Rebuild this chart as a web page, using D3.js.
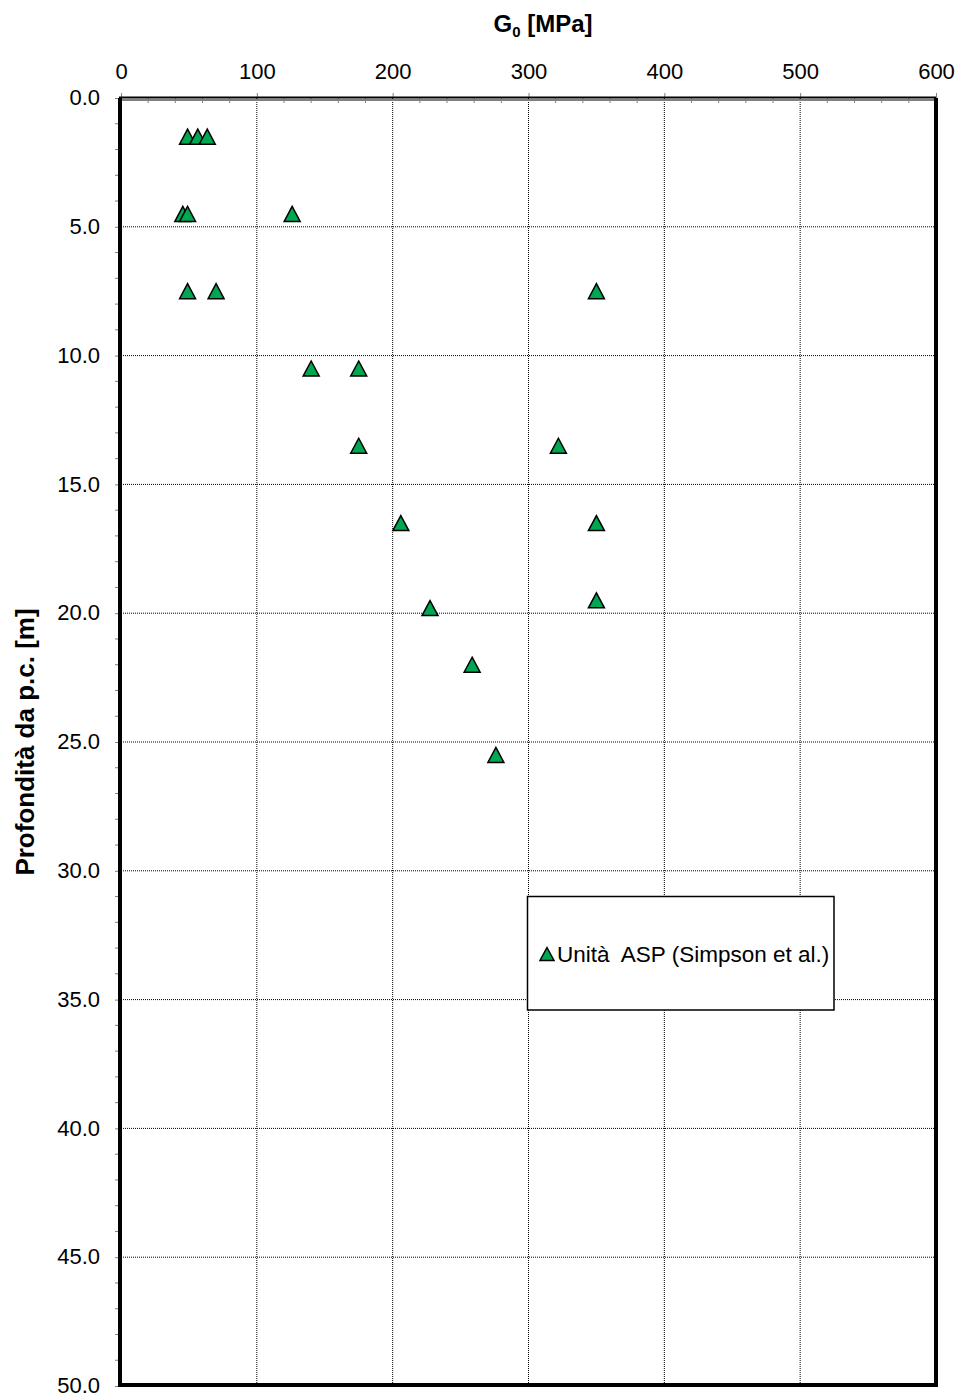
<!DOCTYPE html>
<html>
<head>
<meta charset="utf-8">
<script src="https://cdn.jsdelivr.net/npm/d3@7"></script>
<style>
  body { margin: 0; background: #fff; }
  svg { display: block; font-family: "Liberation Sans", Arial, sans-serif; }
</style>
</head>
<body>
<svg id="chart" width="958" height="1396"></svg>
<script>
// G0 values [MPa] and depths [m]
var g0 =    [49, 56.5, 63.5, 45.5, 49, 126, 49, 70, 350, 140, 175, 175, 322, 206, 350, 227.5, 350, 258.5, 276];
var depth = [1.5, 1.5, 1.5, 4.5, 4.5, 4.5, 7.5, 7.5, 7.5, 10.5, 10.5, 13.5, 13.5, 16.5, 16.5, 19.8, 19.5, 22.0, 25.5];
var xTicks = [0, 100, 200, 300, 400, 500, 600];
var yTicks = [0, 5, 10, 15, 20, 25, 30, 35, 40, 45, 50];
var seriesName = "Unità  ASP (Simpson et al.)";

var svg = d3.select("#chart");

// plot area (window.top is read-only, so no plain "top")
var pL = 121, pR = 936, pT = 98, pB = 1386;

var x = d3.scaleLinear().domain([0, 600]).range([pL, pR]);
var y = d3.scaleLinear().domain([0, 50]).range([pT, pB]);

// triangle centred on its bounding box, like the spreadsheet marker
function triType(w, h) {
  return {
    draw: function(ctx) {
      ctx.moveTo(0, -h / 2);
      ctx.lineTo(w / 2, h / 2);
      ctx.lineTo(-w / 2, h / 2);
      ctx.closePath();
    }
  };
}

// dotted grid
svg.append("g").selectAll("line")
    .data(xTicks.slice(1, -1))
  .join("line")
    .attr("x1", d => x(d)).attr("x2", d => x(d))
    .attr("y1", pT).attr("y2", pB)
    .attr("stroke", "#000").attr("stroke-width", 1)
    .attr("stroke-dasharray", "1,1");

svg.append("g").selectAll("line")
    .data(yTicks.slice(1, -1))
  .join("line")
    .attr("x1", pL).attr("x2", pR)
    .attr("y1", d => y(d)).attr("y2", d => y(d))
    .attr("stroke", "#000").attr("stroke-width", 1)
    .attr("stroke-dasharray", "1,1");

// minor ticks, x every 20 (inside, downward), y every 1 (outside, leftward)
svg.append("g").selectAll("line")
    .data(d3.range(20, 600, 20).filter(d => d % 100 !== 0))
  .join("line")
    .attr("x1", d => x(d)).attr("x2", d => x(d))
    .attr("y1", pT).attr("y2", pT + 5)
    .attr("stroke", "#808080").attr("stroke-width", 1);

svg.append("g").selectAll("line")
    .data(d3.range(1, 50, 1).filter(d => d % 5 !== 0))
  .join("line")
    .attr("x1", pL - 6).attr("x2", pL)
    .attr("y1", d => y(d)).attr("y2", d => y(d))
    .attr("stroke", "#808080").attr("stroke-width", 1);

// x axis on top
var xAxis = d3.axisTop(x).tickValues(xTicks).tickFormat(d3.format("d")).tickSize(5);
var gx = svg.append("g").attr("transform", "translate(0," + pT + ")").call(xAxis);
gx.select(".domain").remove();
gx.selectAll(".tick line").attr("stroke", "#808080");
gx.selectAll(".tick text")
    .attr("font-family", "Liberation Sans, Arial, sans-serif")
    .attr("font-size", 22).attr("fill", "#000")
    .attr("y", -19).attr("dy", 0);

// y axis on left
var yAxis = d3.axisLeft(y).tickValues(yTicks).tickFormat(d3.format(".1f")).tickSize(6);
var gy = svg.append("g").attr("transform", "translate(" + pL + ",0)").call(yAxis);
gy.select(".domain").remove();
gy.selectAll(".tick line").attr("stroke", "#808080");
gy.selectAll(".tick text")
    .attr("font-family", "Liberation Sans, Arial, sans-serif")
    .attr("font-size", 22).attr("fill", "#000").attr("x", -21).attr("dy", "0.3em");

// frame
svg.append("line").attr("x1", pL).attr("x2", pR).attr("y1", pT + 2).attr("y2", pT + 2)
    .attr("stroke", "#808080").attr("stroke-width", 2);
svg.append("line").attr("x1", pL - 2).attr("x2", pR).attr("y1", pT - 0.5).attr("y2", pT - 0.5)
    .attr("stroke", "#000").attr("stroke-width", 2);
svg.append("line").attr("x1", pL - 1).attr("x2", pL - 1).attr("y1", pT).attr("y2", pB + 1)
    .attr("stroke", "#000").attr("stroke-width", 4);
svg.append("line").attr("x1", pR).attr("x2", pR).attr("y1", pT).attr("y2", pB + 1)
    .attr("stroke", "#000").attr("stroke-width", 4);
svg.append("line").attr("x1", pL - 3).attr("x2", pR + 2).attr("y1", pB - 1).attr("y2", pB - 1)
    .attr("stroke", "#000").attr("stroke-width", 4);

// markers
var tri = d3.symbol().type(triType(16, 15));
var pts = g0.map((v, i) => ({v: v, d: depth[i]}));
svg.append("g").selectAll("path")
    .data(pts)
  .join("path")
    .attr("d", tri)
    .attr("transform", d => "translate(" + x(d.v) + "," + y(d.d) + ")")
    .attr("fill", "#00a651").attr("stroke", "#000").attr("stroke-width", 1.5)
    .attr("stroke-linejoin", "miter");

// titles
var xt = svg.append("text")
    .attr("x", 543).attr("y", 32)
    .attr("text-anchor", "middle")
    .attr("font-size", 24).attr("font-weight", "bold");
xt.append("tspan").text("G");
xt.append("tspan").attr("font-size", 15).attr("dy", 5).text("0");
xt.append("tspan").attr("dy", -5).text(" [MPa]");

svg.append("text")
    .attr("transform", "translate(34," + ((pT + pB) / 2) + ") rotate(-90)")
    .attr("text-anchor", "middle")
    .attr("font-size", 26).attr("font-weight", "bold")
    .text("Profondità da p.c. [m]");

// legend
var lg = svg.append("g");
lg.append("rect")
    .attr("x", 527.5).attr("y", 896.5).attr("width", 306.5).attr("height", 113.5)
    .attr("fill", "#fff").attr("stroke", "#000").attr("stroke-width", 1.5);
lg.append("path")
    .attr("d", d3.symbol().type(triType(14, 13)))
    .attr("transform", "translate(547,954)")
    .attr("fill", "#00a651").attr("stroke", "#000").attr("stroke-width", 1.5);
lg.append("text")
    .attr("x", 557).attr("y", 962)
    .attr("font-size", 22.5)
    .style("white-space", "pre")
    .text(seriesName);
</script>
</body>
</html>
